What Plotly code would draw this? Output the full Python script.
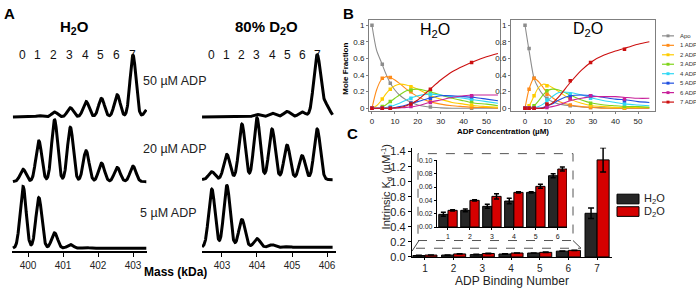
import numpy as np
import plotly.graph_objects as go

W, H = 696, 289
FONT = "Liberation Sans, Arial, sans-serif"


def fx(p):
    return p / W


def fy(p):
    return 1 - p / H


# ---------------- Panel A data (native MS) ----------------
peak_labels = ["0", "1", "2", "3", "4", "5", "6", "7"]
h2o_peak_mass = [399.86, 400.31, 400.76, 401.21, 401.66, 402.10, 402.55, 403.00]
d2o_peak_mass = [402.71, 403.14, 403.57, 404.00, 404.43, 404.86, 405.29, 405.72]
conc_labels = ["50 µM ADP", "20 µM ADP", "5 µM ADP"]
h2o_50 = [1, 2, 8, 15, 25, 30, 36, 100]
h2o_20 = [20, 66, 100, 88, 50, 30, 23, 25]
h2o_5 = [100, 82, 25, 6, 1, 0, 0, 0]
d2o_50 = [0, 0, 1, 4, 6, 9, 8, 100]
d2o_20 = [13, 41, 90, 100, 82, 56, 39, 82]
d2o_5 = [94, 100, 45, 14, 4, 1, 0, 0]
h2o_50_tail_mass = [403.42]
h2o_50_tail_int = [13]
d2o_50_tail_mass = [405.98]
d2o_50_tail_int = [18]
h2o_mass_ticks = [400, 401, 402, 403]
d2o_mass_ticks = [403, 404, 405, 406]

# ---------------- Panel B data (mole fractions) ----------------
species = ["Apo", "1 ADP", "2 ADP", "3 ADP", "4 ADP", "5 ADP", "6 ADP", "7 ADP"]
curve_conc = [0, 2, 4, 6, 8, 10, 12, 15, 20, 25, 30, 35, 40, 45, 50, 55]
h2o_curves = [
    [1.0, 0.70, 0.56, 0.42, 0.30, 0.22, 0.16, 0.10, 0.04, 0.015, 0.005, 0, 0, 0, 0, 0],
    [0, 0.22, 0.34, 0.38, 0.37, 0.34, 0.30, 0.23, 0.14, 0.08, 0.05, 0.03, 0.02, 0.01, 0.01, 0],
    [0, 0.03, 0.09, 0.17, 0.23, 0.27, 0.29, 0.28, 0.23, 0.16, 0.11, 0.07, 0.05, 0.03, 0.02, 0.01],
    [0, 0, 0.01, 0.04, 0.08, 0.12, 0.16, 0.21, 0.23, 0.20, 0.16, 0.12, 0.09, 0.06, 0.05, 0.03],
    [0, 0, 0, 0.01, 0.02, 0.04, 0.06, 0.10, 0.15, 0.17, 0.16, 0.14, 0.12, 0.10, 0.08, 0.06],
    [0, 0, 0, 0, 0, 0.01, 0.02, 0.04, 0.08, 0.12, 0.15, 0.15, 0.14, 0.13, 0.11, 0.09],
    [0, 0, 0, 0, 0, 0, 0.005, 0.01, 0.03, 0.07, 0.10, 0.13, 0.15, 0.16, 0.16, 0.16],
    [0, 0, 0, 0, 0, 0.005, 0.01, 0.03, 0.10, 0.22, 0.34, 0.44, 0.51, 0.57, 0.62, 0.66],
]
h2o_pt_conc = [0, 4.5, 8, 17, 25.5, 43.5]
h2o_points = [
    [1.0, 0.53, 0.30, 0.07, 0.015, 0.0],
    [0, 0.36, 0.37, 0.20, 0.08, 0.01],
    [0, 0.11, 0.23, 0.26, 0.16, 0.04],
    [0, 0.02, 0.08, 0.22, 0.20, 0.08],
    [0, 0, 0.02, 0.12, 0.17, 0.11],
    [0, 0, 0, 0.06, 0.12, 0.14],
    [0, 0, 0, 0.02, 0.07, 0.15],
    [0, 0, 0, 0.05, 0.23, 0.55],
]
d2o_curves = [
    [1.0, 0.66, 0.36, 0.24, 0.16, 0.11, 0.08, 0.05, 0.03, 0.015, 0.01, 0.005, 0, 0, 0, 0],
    [0, 0.25, 0.36, 0.32, 0.25, 0.18, 0.13, 0.08, 0.04, 0.02, 0.01, 0, 0, 0, 0, 0],
    [0, 0.04, 0.15, 0.25, 0.29, 0.28, 0.25, 0.20, 0.11, 0.06, 0.03, 0.02, 0.01, 0.01, 0.01, 0.01],
    [0, 0, 0.03, 0.09, 0.16, 0.21, 0.23, 0.22, 0.16, 0.10, 0.06, 0.04, 0.03, 0.02, 0.02, 0.01],
    [0, 0, 0.005, 0.02, 0.05, 0.09, 0.14, 0.19, 0.19, 0.16, 0.12, 0.09, 0.07, 0.05, 0.04, 0.03],
    [0, 0, 0, 0, 0.01, 0.03, 0.05, 0.10, 0.15, 0.16, 0.15, 0.13, 0.11, 0.10, 0.08, 0.07],
    [0, 0, 0, 0, 0, 0.01, 0.02, 0.04, 0.09, 0.12, 0.14, 0.14, 0.14, 0.13, 0.12, 0.12],
    [0, 0, 0, 0, 0, 0.03, 0.06, 0.14, 0.31, 0.46, 0.57, 0.64, 0.69, 0.73, 0.77, 0.80],
]
d2o_pt_conc = [0, 1.8, 4, 9.7, 20, 29, 44]
d2o_points = [
    [1.0, 0.72, 0.36, 0.12, 0.03, 0.01, 0.0],
    [0, 0.23, 0.36, 0.17, 0.04, 0.01, 0],
    [0, 0.03, 0.15, 0.27, 0.11, 0.03, 0.01],
    [0, 0, 0.03, 0.21, 0.15, 0.06, 0.02],
    [0, 0, 0, 0.10, 0.17, 0.12, 0.05],
    [0, 0, 0, 0.04, 0.14, 0.15, 0.09],
    [0, 0, 0, 0.01, 0.11, 0.15, 0.11],
    [0, 0, 0, 0.05, 0.33, 0.55, 0.71],
]
species_colors = ["#8c8c8c", "#ff8c1a", "#ffcc00", "#80d41c", "#2fd8f5", "#2050e0", "#c8209a", "#cc1010"]

# ---------------- Panel C data (intrinsic Kd) ----------------
binding_numbers = [1, 2, 3, 4, 5, 6, 7]
kd_h2o = [0.019, 0.025, 0.031, 0.039, 0.052, 0.077, 0.58]
kd_h2o_err = [0.003, 0.002, 0.003, 0.004, 0.001, 0.003, 0.07]
kd_d2o = [0.025, 0.040, 0.046, 0.052, 0.061, 0.087, 1.29]
kd_d2o_err = [0.001, 0.001, 0.004, 0.001, 0.003, 0.003, 0.16]
color_h2o = "#262626"
color_d2o = "#d50000"

fig = go.Figure()

# ---------------- Panel A traces ----------------
SCALE = 64.0  # px per 100 %


def spectrum(masses, intens, sigma, grid, tail_m=(), tail_i=()):
    y = np.zeros_like(grid)
    for m, i in list(zip(masses, intens)) + list(zip(tail_m, tail_i)):
        y += i / 100.0 * np.exp(-((grid - m) ** 2) / (2 * sigma ** 2))
    return y * SCALE


g_h = np.linspace(399.57, 403.38, 700)
g_d = np.linspace(402.43, 406.16, 700)
specs = [
    ("x", "y", g_h, h2o_peak_mass, h2o_50, 0.085, 139, h2o_50_tail_mass, h2o_50_tail_int),
    ("x", "y", g_h, h2o_peak_mass, h2o_20, 0.085, 72, (), ()),
    ("x", "y", g_h, h2o_peak_mass, h2o_5, 0.085, 3, (), ()),
    ("x2", "y2", g_d, d2o_peak_mass, d2o_50, 0.10, 139, d2o_50_tail_mass, d2o_50_tail_int),
    ("x2", "y2", g_d, d2o_peak_mass, d2o_20, 0.09, 74, (), ()),
    ("x2", "y2", g_d, d2o_peak_mass, d2o_5, 0.09, 4, (), ()),
]
for xa, ya, grid, pm, it, sg, base, tm, ti in specs:
    fig.add_trace(go.Scatter(x=grid, y=base + spectrum(pm, it, sg, grid, tm, ti), mode="lines",
                             line=dict(color="black", width=3), xaxis=xa, yaxis=ya,
                             showlegend=False, hoverinfo="skip"))

# ---------------- Panel B traces ----------------
for (xa, ya, cx, curves, pc, pts) in [("x3", "y3", curve_conc, h2o_curves, h2o_pt_conc, h2o_points),
                                      ("x4", "y4", curve_conc, d2o_curves, d2o_pt_conc, d2o_points)]:
    for k in range(8):
        fig.add_trace(go.Scatter(x=cx, y=curves[k], mode="lines", line=dict(color=species_colors[k], width=1.1,
                                 shape="spline", smoothing=0.8), xaxis=xa, yaxis=ya, showlegend=False))
    for k in range(8):
        fig.add_trace(go.Scatter(x=pc, y=pts[k], mode="markers",
                                 marker=dict(color=species_colors[k], size=3.5, symbol="square"),
                                 xaxis=xa, yaxis=ya, showlegend=False))

# ---------------- Panel C traces ----------------
main_n = binding_numbers
inset_n = binding_numbers[:6]
fig.add_trace(go.Bar(x=main_n, y=kd_h2o, error_y=dict(type="data", array=kd_h2o_err, color="black", thickness=1.5, width=3),
                     marker=dict(color=color_h2o, line=dict(color="black", width=1)), xaxis="x5", yaxis="y5", showlegend=False))
fig.add_trace(go.Bar(x=main_n, y=kd_d2o, error_y=dict(type="data", array=kd_d2o_err, color="black", thickness=1.5, width=3),
                     marker=dict(color=color_d2o, line=dict(color="black", width=1)), xaxis="x5", yaxis="y5", showlegend=False))
fig.add_trace(go.Bar(x=inset_n, y=kd_h2o[:6], error_y=dict(type="data", array=kd_h2o_err[:6], color="black", thickness=1.5, width=2.5),
                     marker=dict(color=color_h2o, line=dict(color="black", width=1)), xaxis="x6", yaxis="y6", showlegend=False))
fig.add_trace(go.Bar(x=inset_n, y=kd_d2o[:6], error_y=dict(type="data", array=kd_d2o_err[:6], color="black", thickness=1.5, width=2.5),
                     marker=dict(color=color_d2o, line=dict(color="black", width=1)), xaxis="x6", yaxis="y6", showlegend=False))

# ---------------- Axes ----------------
hidden_y = dict(visible=False, range=[0, 216], domain=[fy(256), fy(40)], fixedrange=True)
mass_axis = dict(showline=True, linecolor="black", linewidth=1.5, ticks="outside", ticklen=4, tickwidth=1.2,
                 tickcolor="black", tickfont=dict(size=10, color="#222", family=FONT), showgrid=False, zeroline=False)
b_x = dict(showline=True, mirror=True, linecolor="#7f7f7f", linewidth=1, ticks="outside", ticklen=2, tickcolor="#7f7f7f",
           tickfont=dict(size=8, color="#222", family=FONT), showgrid=False, zeroline=False,
           tickvals=[0, 10, 20, 30, 40, 50])
b_y = dict(showline=True, mirror=True, linecolor="#7f7f7f", linewidth=1, ticks="outside", ticklen=2, tickcolor="#7f7f7f",
           tickfont=dict(size=8, color="#222", family=FONT), showgrid=False, zeroline=False,
           tickvals=[0, 0.2, 0.4, 0.6, 0.8, 1.0], ticktext=["0", "0.2", "0.4", "0.6", "0.8", "1"],
           range=[-0.035, 1.058], domain=[fy(111), fy(17)])
c_ax = dict(showline=True, linecolor="black", linewidth=1.3, ticks="outside", tickcolor="black", showgrid=False, zeroline=False)

fig.update_layout(
    width=W, height=H, margin=dict(l=0, r=0, t=0, b=0), paper_bgcolor="white", plot_bgcolor="rgba(0,0,0,0)",
    font=dict(family=FONT, color="black"), barmode="group", bargap=0.16, bargroupgap=0,
    xaxis=dict(mass_axis, domain=[fx(12), fx(147)], range=[399.543, 403.4], tickvals=h2o_mass_ticks, anchor="y"),
    yaxis=dict(hidden_y, anchor="x"),
    xaxis2=dict(mass_axis, domain=[fx(202), fx(336)], range=[402.429, 406.257], tickvals=d2o_mass_ticks, anchor="y2"),
    yaxis2=dict(hidden_y, anchor="x2"),
    xaxis3=dict(b_x, domain=[fx(369), fx(500)], range=[-1.3, 55.9], anchor="y3"),
    yaxis3=dict(b_y, anchor="x3"),
    xaxis4=dict(b_x, domain=[fx(511), fx(655)], range=[-6.2, 57.5], anchor="y4"),
    yaxis4=dict(b_y, anchor="x4"),
    xaxis5=dict(c_ax, domain=[fx(412), fx(612)], range=[0.55, 7.52], tickvals=binding_numbers, ticklen=2,
                tickfont=dict(size=10, color="#222"), anchor="y5",
                title=dict(text="ADP Binding Number", font=dict(size=12, color="#222"), standoff=1)),
    yaxis5=dict(c_ax, domain=[fy(262), fy(149)], range=[0, 1.45], tickvals=[0, 0.2, 0.4, 0.6, 0.8, 1.0, 1.2, 1.4],
                tickformat=".1f", ticklen=3, tickfont=dict(size=11, color="#222"), anchor="x5"),
    xaxis6=dict(c_ax, domain=[fx(437), fx(567)], range=[0.5, 6.42], tickvals=inset_n, ticklen=2, linewidth=1.2,
                tickfont=dict(size=7, color="#222"), anchor="y6"),
    yaxis6=dict(c_ax, domain=[fy(231), fy(162)], range=[0, 0.10], tickvals=[0, 0.02, 0.04, 0.06, 0.08, 0.10],
                tickformat=".2f", ticklen=2, linewidth=1.2, tickfont=dict(size=7, color="#222"), anchor="x6"),
)

ann = []


def text(x, y, s, size, bold=False, xanchor="center", angle=0, color="black", xref="paper", yref="paper"):
    if bold:
        s = "<b>" + s + "</b>"
    ann.append(dict(x=fx(x) if xref == "paper" else x, y=fy(y) if yref == "paper" else y, xref=xref, yref=yref,
                    text=s, showarrow=False, xanchor=xanchor, yanchor="middle", textangle=angle,
                    font=dict(size=size, color=color, family=FONT)))


# Panel A texts
text(9, 10, "A", 15, bold=True)
text(74, 24, "H<sub>2</sub>O", 15, bold=True)
text(266, 24, "80% D<sub>2</sub>O", 15, bold=True)
for m, lab in zip(h2o_peak_mass, peak_labels):
    ann.append(dict(x=m, y=fy(44), xref="x", yref="paper", text=lab, showarrow=False, xshift=-1,
                    font=dict(size=12, color="#111", family=FONT)))
for m, lab in zip(d2o_peak_mass, peak_labels):
    ann.append(dict(x=m, y=fy(44), xref="x2", yref="paper", text=lab, showarrow=False,
                    font=dict(size=12, color="#111", family=FONT)))
for (xp, yp), lab in zip([(141, 80), (141, 150), (138, 217)], conc_labels):
    text(xp, yp, lab, 12.5, xanchor="left", color="#222")
text(175, 278, "Mass (kDa)", 12, bold=True)

# Panel B texts
text(349, 10, "B", 15, bold=True)
text(435, 27, "H<sub>2</sub>O", 16)
text(588, 26, "D<sub>2</sub>O", 16)
text(346, 67, "Mole Fraction", 8, bold=True, angle=-90)
text(503, 132, "ADP Concentration (µM)", 8, bold=True)

shapes = []
for i, (lab, col) in enumerate(zip(species, species_colors)):
    yy = 33 + 9.8 * i
    shapes.append(dict(type="line", xref="paper", yref="paper", x0=fx(662), x1=fx(674), y0=fy(yy), y1=fy(yy),
                       line=dict(color=col, width=1.2)))
    shapes.append(dict(type="rect", xref="paper", yref="paper", x0=fx(666.5), x1=fx(669.5), y0=fy(yy - 1.5),
                       y1=fy(yy + 1.5), fillcolor=col, line=dict(width=0)))
    text(678, yy, lab, 6, xanchor="left", color="#333")

# Panel C texts
text(352, 134, "C", 15, bold=True)
text(387, 190, "Intrinsic K<sub>d</sub> (µM<sup>-1</sup>)", 11, angle=-90, color="#222")
shapes.append(dict(type="rect", xref="paper", yref="paper", x0=fx(617), x1=fx(639), y0=fy(197), y1=fy(207),
                   fillcolor=color_h2o, line=dict(color="black", width=1)))
shapes.append(dict(type="rect", xref="paper", yref="paper", x0=fx(617), x1=fx(639), y0=fy(210), y1=fy(220),
                   fillcolor=color_d2o, line=dict(color="black", width=1)))
text(642, 202, "H<sub>2</sub>O", 11, xanchor="left", color="#222")
text(642, 215, "D<sub>2</sub>O", 11, xanchor="left", color="#222")

dash = dict(color="#555", width=1, dash="dash")
shapes.append(dict(type="rect", xref="paper", yref="paper", x0=fx(418), x1=fx(573), y0=fy(245), y1=fy(155), line=dash))
shapes.append(dict(type="line", xref="paper", yref="paper", x0=fx(416), x1=fx(581), y0=fy(253), y1=fy(253), line=dash))
shapes.append(dict(type="line", xref="paper", yref="paper", x0=fx(412), x1=fx(419), y0=fy(256), y1=fy(245),
                   line=dict(color="#444", width=1)))
shapes.append(dict(type="line", xref="paper", yref="paper", x0=fx(573), x1=fx(581), y0=fy(245), y1=fy(253),
                   line=dict(color="#444", width=1)))

fig.update_layout(annotations=ann, shapes=shapes)
fig.write_html("out.html")
